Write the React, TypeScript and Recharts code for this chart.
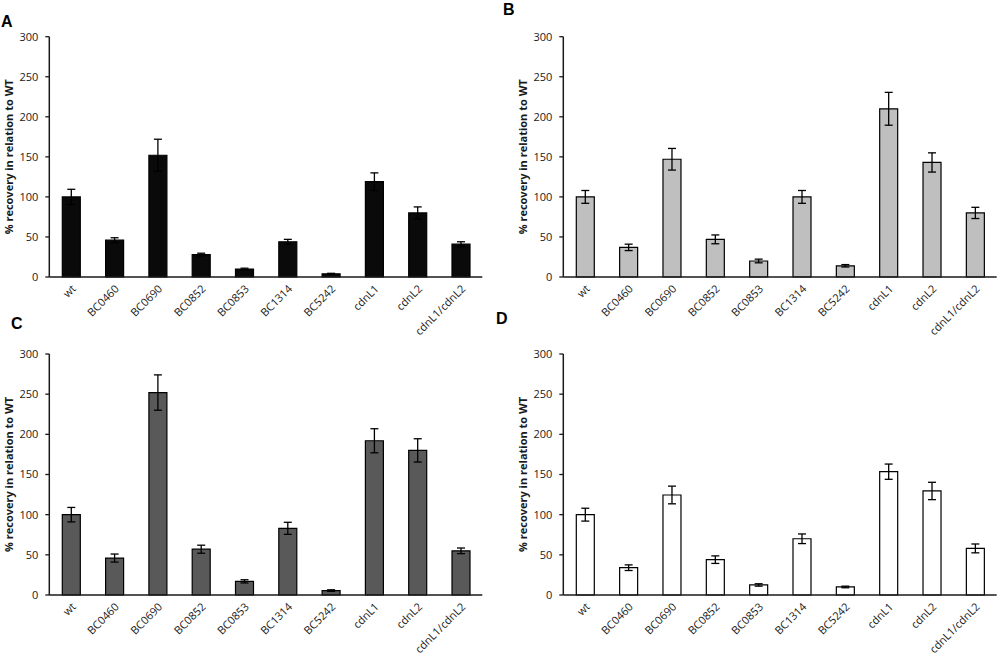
import React from "react";
import { BarChart, Bar, XAxis, YAxis, ErrorBar } from "recharts";

const strains = ["wt", "BC0460", "BC0690", "BC0852", "BC0853", "BC1314", "BC5242", "cdnL1", "cdnL2", "cdnL1/cdnL2"];
const yTicks = [0, 50, 100, 150, 200, 250, 300];
const boundaryTicks = [0, 1, 2, 3, 4, 5, 6, 7, 8, 9, 10];

const valuesA = [100, 46, 152, 28, 10, 44, 4, 119, 80, 41];
const errorsA = [9.5, 3, 20, 1.7, 1, 3, 0.6, 11, 7.5, 3];
const valuesB = [100, 37, 147, 47, 20, 100, 14, 210, 143, 80];
const errorsB = [8, 4, 13.5, 5.5, 2.3, 8, 1.5, 20.5, 12, 7];
const valuesC = [100, 46, 252, 57, 17, 83, 5.5, 192, 180, 55];
const errorsC = [9, 5, 22, 5, 2, 7.5, 1, 15, 14.5, 3.5];
const valuesD = [100, 34, 124.5, 44, 12.5, 70, 10, 153.5, 129.5, 58];
const errorsD = [8, 3.5, 11, 4.7, 1.5, 6, 1, 9.5, 10.8, 5.5];

const yLabel = "% recovery in relation to WT";
const FONT = "'Open Sans', sans-serif";
const INK = "#1a1a1a";

const makeData = (vals: number[], errs: number[]) =>
  strains.map((s, i) => ({ name: s, value: vals[i], err: errs[i] }));

const YLabel = (props: any) => {
  const vb = props.viewBox || {};
  const x = vb.x + vb.width - 41;
  const y = vb.y + vb.height / 2;
  return (
    <text
      x={x}
      y={y}
      transform={`rotate(-90 ${x} ${y})`}
      textAnchor="middle"
      dominantBaseline="central"
      fontSize={11}
      fontWeight="bold"
      fontFamily={FONT}
      fill={INK}
    >
      {yLabel}
    </text>
  );
};

type PanelProps = {
  vals: number[];
  errs: number[];
  fill: string;
  plotLeft: number;
  plotRight: number;
  plotTop: number;
  plotBottom: number;
};

const W = 500;
const H = 345;

const Panel = ({ vals, errs, fill, plotLeft, plotRight, plotTop, plotBottom }: PanelProps) => {
  const data = makeData(vals, errs);
  return (
    <BarChart
      width={W}
      height={H}
      data={data}
      margin={{ top: plotTop, right: W - plotRight, left: 0, bottom: H - plotBottom - 2 }}
      barSize={18}
    >
      <XAxis
        dataKey="name"
        type="category"
        interval={0}
        tickLine={false}
        tickSize={0}
        tickMargin={7}
        angle={-45}
        textAnchor="end"
        axisLine={{ stroke: INK, strokeWidth: 1.5 }}
        tick={{ fontSize: 11, fontFamily: FONT, fill: INK, stroke: "none" }}
        height={1}
      />
      <XAxis
        xAxisId="bounds"
        type="number"
        domain={[0, 10]}
        ticks={boundaryTicks}
        interval={0}
        tick={false}
        axisLine={false}
        tickSize={4}
        tickLine={{ stroke: INK, strokeWidth: 1.3 }}
        height={1}
        allowDataOverflow
      />
      <YAxis
        width={plotLeft}
        domain={[0, 300]}
        ticks={yTicks}
        interval={0}
        tickSize={4}
        tickMargin={7}
        axisLine={{ stroke: INK, strokeWidth: 1.5 }}
        tickLine={{ stroke: INK, strokeWidth: 1.3 }}
        tick={{ fontSize: 11, fontFamily: FONT, fill: INK, stroke: "none" }}
        label={<YLabel />}
      />
      <Bar dataKey="value" fill={fill} stroke="#000" strokeWidth={1.2} isAnimationActive={false}>
        <ErrorBar dataKey="err" width={4} stroke="#000" strokeWidth={1.3} direction="y" />
      </Bar>
    </BarChart>
  );
};

const letterStyle: React.CSSProperties = {
  position: "absolute",
  fontFamily: "'Liberation Sans', Arial, sans-serif",
  fontWeight: "bold",
  fontSize: 16,
  lineHeight: "16px",
  color: "#000",
};

export default function App() {
  return (
    <div style={{ position: "absolute", left: 0, top: 0, width: 1000, height: 659, background: "#fff", overflow: "hidden" }}>
      <div style={{ position: "absolute", left: 0, top: 0 }}>
        <Panel vals={valuesA} errs={errorsA} fill="#0a0a0a" plotLeft={49.3} plotRight={482.3} plotTop={36.7} plotBottom={277} />
      </div>
      <div style={{ position: "absolute", left: 500, top: 0 }}>
        <Panel vals={valuesB} errs={errorsB} fill="#bfbfbf" plotLeft={63.3} plotRight={496.7} plotTop={36.7} plotBottom={277} />
      </div>
      <div style={{ position: "absolute", left: 0, top: 330 }}>
        <Panel vals={valuesC} errs={errorsC} fill="#595959" plotLeft={49.3} plotRight={482.3} plotTop={24} plotBottom={265} />
      </div>
      <div style={{ position: "absolute", left: 500, top: 330 }}>
        <Panel vals={valuesD} errs={errorsD} fill="#ffffff" plotLeft={63.3} plotRight={496.7} plotTop={24} plotBottom={265} />
      </div>
      <div style={{ ...letterStyle, left: 1, top: 14 }}>A</div>
      <div style={{ ...letterStyle, left: 503, top: 2 }}>B</div>
      <div style={{ ...letterStyle, left: 11, top: 316 }}>C</div>
      <div style={{ ...letterStyle, left: 496, top: 311 }}>D</div>
    </div>
  );
}
